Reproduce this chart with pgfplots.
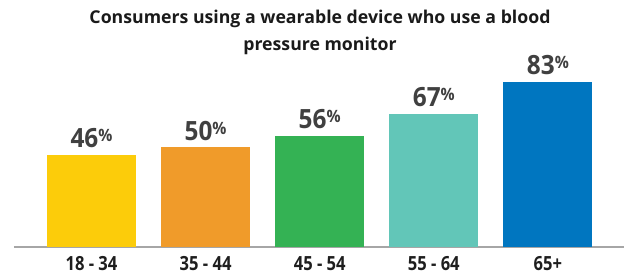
\documentclass[border=0pt]{standalone}
\usepackage{pgfplots}
\pgfplotsset{compat=1.18}
\usepackage{fontspec}
\setmainfont{Open Sans}
\newfontfamily\valfont{Open Sans}[FakeStretch=0.92]
\newfontfamily\labfont{Open Sans}[FakeStretch=0.85]
\definecolor{cYel}{RGB}{252,204,10}
\definecolor{cOra}{RGB}{240,155,42}
\definecolor{cGre}{RGB}{52,178,84}
\definecolor{cTea}{RGB}{98,198,184}
\definecolor{cBlu}{RGB}{0,118,192}
\definecolor{valgray}{RGB}{64,64,64}
\definecolor{titleblk}{RGB}{26,26,26}
\begin{document}
\begin{tikzpicture}
\useasboundingbox (-14pt,-30pt) rectangle (610pt,247pt);
\begin{axis}[
  scale only axis,
  width=610pt, height=247pt,
  xmin=-0.679, xmax=4.667,
  ymin=0, ymax=124.1,
  hide y axis,
  axis x line*=bottom,
  x axis line style={-, draw={rgb,255:red,166;green,166;blue,166}, line width=1.2pt},
  xtick={0,1,2,3,4},
  xticklabels={18 - 34, 35 - 44, 45 - 54, 55 - 64, 65+},
  major tick length=0pt,
  xticklabel style={font=\labfont\fontsize{19.5}{19.5}\selectfont\bfseries, text={rgb,255:red,30;green,30;blue,30}, anchor=base, yshift=-23pt, inner sep=0pt},
  ybar, bar width=89pt,
  clip=false,
  point meta=explicit symbolic,
  nodes near coords={\valfont\fontsize{26.5}{26.5}\selectfont\bfseries\pgfplotspointmeta\raisebox{6pt}{\fontsize{17}{17}\selectfont\%}},
  every node near coord/.append style={text=valgray, inner sep=0pt, yshift=7pt},
]
\addplot[fill=cYel, draw=none, bar shift=0pt] coordinates {(0,46) [46]};
\addplot[fill=cOra, draw=none, bar shift=0pt] coordinates {(1,50) [50]};
\addplot[fill=cGre, draw=none, bar shift=0pt] coordinates {(2,56) [56]};
\addplot[fill=cTea, draw=none, bar shift=0pt] coordinates {(3,67) [67]};
\addplot[fill=cBlu, draw=none, bar shift=0pt] coordinates {(4,83) [83]};
\end{axis}
\node[anchor=base, inner sep=0pt, text=titleblk, font=\fontsize{17.7}{17.7}\selectfont\bfseries] at (306pt,224pt) {Consumers using a wearable device who use a blood};
\node[anchor=base, inner sep=0pt, text=titleblk, font=\fontsize{17.7}{17.7}\selectfont\bfseries] at (306pt,197pt) {pressure monitor};
\end{tikzpicture}
\end{document}
